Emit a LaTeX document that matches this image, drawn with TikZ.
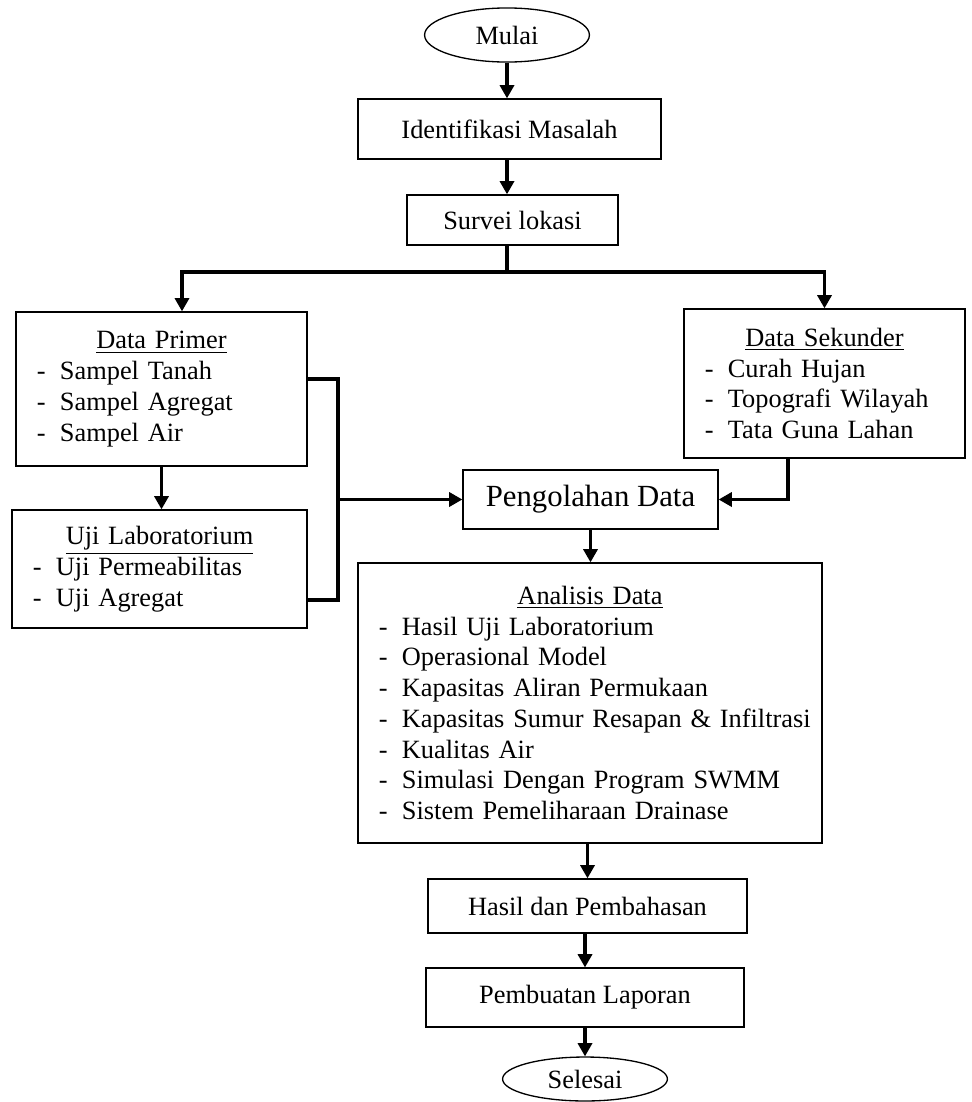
\documentclass[tikz,border=0pt]{standalone}
\usepackage{fontspec}
\setmainfont{Liberation Serif}
\usetikzlibrary{positioning,shapes.geometric,arrows.meta}

\newcommand{\pxl}{0.455pt}
\newcommand{\ditem}[1]{\mbox{\makebox[10.5pt][l]{-}#1}}
\newcommand{\dtitle}[1]{\makebox[\linewidth]{\underline{#1}}}

\begin{document}
\begin{tikzpicture}[x=\pxl,y=-\pxl]
  \tikzset{BoxStyle/.style = {
    shape         = rectangle,
    draw          = black,
    fill          = white,
    line width    = 0.6pt,
    text          = black,
    inner sep     = 2pt,
    font          = \fontsize{12}{14}\selectfont
    }
  }
  \tikzset{ListStyle/.style = {
    BoxStyle,
    align         = left,
    inner xsep    = 9.5pt,
    inner ysep    = 0pt
    }
  }
  \tikzset{TermStyle/.style = {
    shape         = ellipse,
    draw          = black,
    line width    = 0.6pt,
    inner sep     = 0pt,
    minimum width = 75pt,
    font          = \fontsize{12}{14}\selectfont
    }
  }
  \tikzset{LineStyle/.style = {
    draw          = black,
    line width    = 1.4pt
    }
  }
  \tikzset{ArrowStyle/.style = {
    LineStyle,
    -{Triangle[width=6.4pt,length=6pt]}
    }
  }

  \useasboundingbox (0,0) rectangle (971,1102);

	\node[TermStyle, minimum height=24.6pt](Mulai) at (507,35) {Mulai};
	\node[BoxStyle, minimum width=137.9pt, minimum height=27.3pt](Ident) at (509.5,129) {Identifikasi Masalah};
	\node[BoxStyle, minimum width=96pt, minimum height=22.8pt](Survei) at (512.5,220) {Survei lokasi};
	\node[ListStyle, text width=113.4pt, minimum height=70.1pt](Primer) at (161.5,389)
	  {\dtitle{Data Primer}\\ \ditem{Sampel Tanah}\\ \ditem{Sampel Agregat}\\ \ditem{Sampel Air}};
	\node[ListStyle, text width=108.9pt, minimum height=67.8pt](Sekunder) at (824.5,383.5)
	  {\dtitle{Data Sekunder}\\ \ditem{Curah Hujan}\\ \ditem{Topografi Wilayah}\\ \ditem{Tata Guna Lahan}};
	\node[ListStyle, text width=115.2pt, minimum height=53.7pt](UjiLab) at (159.5,569)
	  {\dtitle{Uji Laboratorium}\\ \ditem{Uji Permeabilitas}\\ \ditem{Uji Agregat}};
	\node[BoxStyle, minimum width=116pt, minimum height=26.8pt, font=\fontsize{14}{16}\selectfont](Olah) at (590.5,499.5) {Pengolahan Data};
	\node[ListStyle, text width=192.1pt, minimum height=127.4pt](Analisis) at (590,703)
	  {\dtitle{Analisis Data}\\ \ditem{Hasil Uji Laboratorium}\\ \ditem{Operasional Model}\\
	   \ditem{Kapasitas Aliran Permukaan}\\ \ditem{Kapasitas Sumur Resapan \& Infiltrasi}\\ \ditem{Kualitas Air}\\
	   \ditem{Simulasi Dengan Program SWMM}\\ \ditem{Sistem Pemeliharaan Drainase}};
	\node[BoxStyle, minimum width=145.1pt, minimum height=24.6pt](Hasil) at (587.5,906) {Hasil dan Pembahasan};
	\node[BoxStyle, minimum width=144.7pt, minimum height=26.8pt](Lapor) at (585,997.5) {Pembuatan Laporan};
	\node[TermStyle, minimum height=20pt](Selesai) at (585,1079) {Selesai};

	\coordinate (Split) at (507,272);
	\coordinate (SplitL) at (182,272);
	\coordinate (BrkTop) at (338,379);
	\coordinate (BrkBot) at (338,600);
	\coordinate (SekOut) at (788,458);

	\draw[ArrowStyle] (Mulai.south) -- (Mulai.south |- Ident.north);
	\draw[ArrowStyle] (Ident.south -| Mulai) -- (Survei.north -| Mulai);
	\draw[LineStyle] (Survei.south -| Mulai) -- (Split);
	\draw[ArrowStyle] (Split) -- (SplitL) -- (SplitL |- Primer.north);
	\draw[ArrowStyle] (Split) -| (Sekunder.north);
	\draw[ArrowStyle] (Primer.south) -- (Primer.south |- UjiLab.north);
	\draw[LineStyle] (BrkTop -| Primer.east) -- (BrkTop) -- (BrkBot) -- (BrkBot -| UjiLab.east);
	\draw[ArrowStyle] (BrkTop |- Olah.west) -- (Olah.west);
	\draw[ArrowStyle] (SekOut |- Sekunder.south) |- (Olah.east);
	\draw[ArrowStyle] (Olah.south) -- (Olah.south |- Analisis.north);
	\draw[ArrowStyle] (Hasil.north |- Analisis.south) -- (Hasil.north);
	\draw[ArrowStyle] (Lapor.north |- Hasil.south) -- (Lapor.north);
	\draw[ArrowStyle] (Lapor.south) -- (Selesai.north);

\end{tikzpicture}
\end{document}
